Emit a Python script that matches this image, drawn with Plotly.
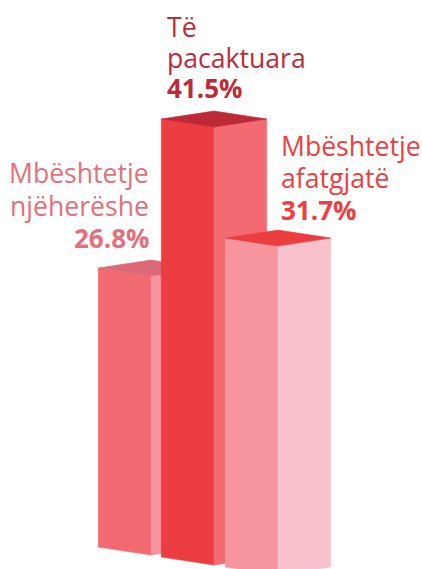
import plotly.graph_objects as go

# Data
categories = ["Mbështetje njëherëshe", "Të pacaktuara", "Mbështetje afatgjatë"]
values = [26.8, 41.5, 31.7]
label_lines = [["Mbështetje", "njëherëshe"], ["Të", "pacaktuara"], ["Mbështetje", "afatgjatë"]]

# Style
front_colors = ["#F46A72", "#EC3D41", "#F6959D"]
side_colors = ["#F7939D", "#F46A72", "#F8C2CD"]
top_colors = ["#DC6A76", "#BC2A37", "#EC3D41"]
text_colors = ["#E56F7C", "#BE2B38", "#EE3E42"]

# Geometry (x in px-like units, y in value units)
W, H = 422, 569
UNIT = 10.45
centers = [151, 214, 278]
half_width = 52.7
tilt = 8 / UNIT
lifts = [2.0, 1.56, -0.03]
floors = [2.1, 1.15, 0.19]
label_x = [150.5, 165, 279]
label_anchor = ["right", "left", "left"]
label_off = [30, 31, 28]       # percent line above bar top, px
line_gap = [32.5, 30.5, 32]    # px between text lines

fig = go.Figure()


def face(xs, ys, color, name):
    fig.add_trace(go.Scatter(x=xs, y=ys, mode="lines", fill="toself", fillcolor=color,
                             line=dict(width=0.6, color=color), hoverinfo="text", text=name,
                             showlegend=False))


for c, v, lift, fl, fc, sc, tc, name in zip(centers, values, lifts, floors, front_colors,
                                            side_colors, top_colors, categories):
    top = v + lift
    l, r = c - half_width, c + half_width
    face([l, c, c, l, l], [top, top - tilt, fl - tilt, fl, top], fc, name)
    face([c, r, r, c, c], [top - tilt, top, fl, fl - tilt, top - tilt], sc, name)
    face([l, c, r, c, l], [top, top + tilt, top, top - tilt, top], tc, name)

annotations = []
for lines, v, lift, x, anchor, col, off, gap in zip(label_lines, values, lifts, label_x, label_anchor,
                                                    text_colors, label_off, line_gap):
    top = v + lift
    base = top + off / UNIT
    annotations.append(dict(x=x, y=base, text=f"<b>{v}%</b>", font=dict(color=col, family="Open Sans", size=26)))
    n = len(lines)
    for i, line in enumerate(lines):
        annotations.append(dict(x=x, y=base + (n - i) * gap / UNIT, text=line,
                                font=dict(color=col, family="Open Sans", size=26.6)))
    for a in annotations[-(n + 1):]:
        a.update(xref="x", yref="y", xanchor=anchor, yanchor="middle", showarrow=False)

fig.update_layout(
    width=W, height=H, margin=dict(l=0, r=0, t=0, b=0),
    paper_bgcolor="white", plot_bgcolor="white", showlegend=False,
    xaxis=dict(range=[0, W], visible=False, fixedrange=True),
    yaxis=dict(range=[0, H / UNIT], visible=False, fixedrange=True),
    annotations=annotations,
)
fig.write_html("out.html", post_script="document.body.style.margin='0';",
               config={"displayModeBar": False})
